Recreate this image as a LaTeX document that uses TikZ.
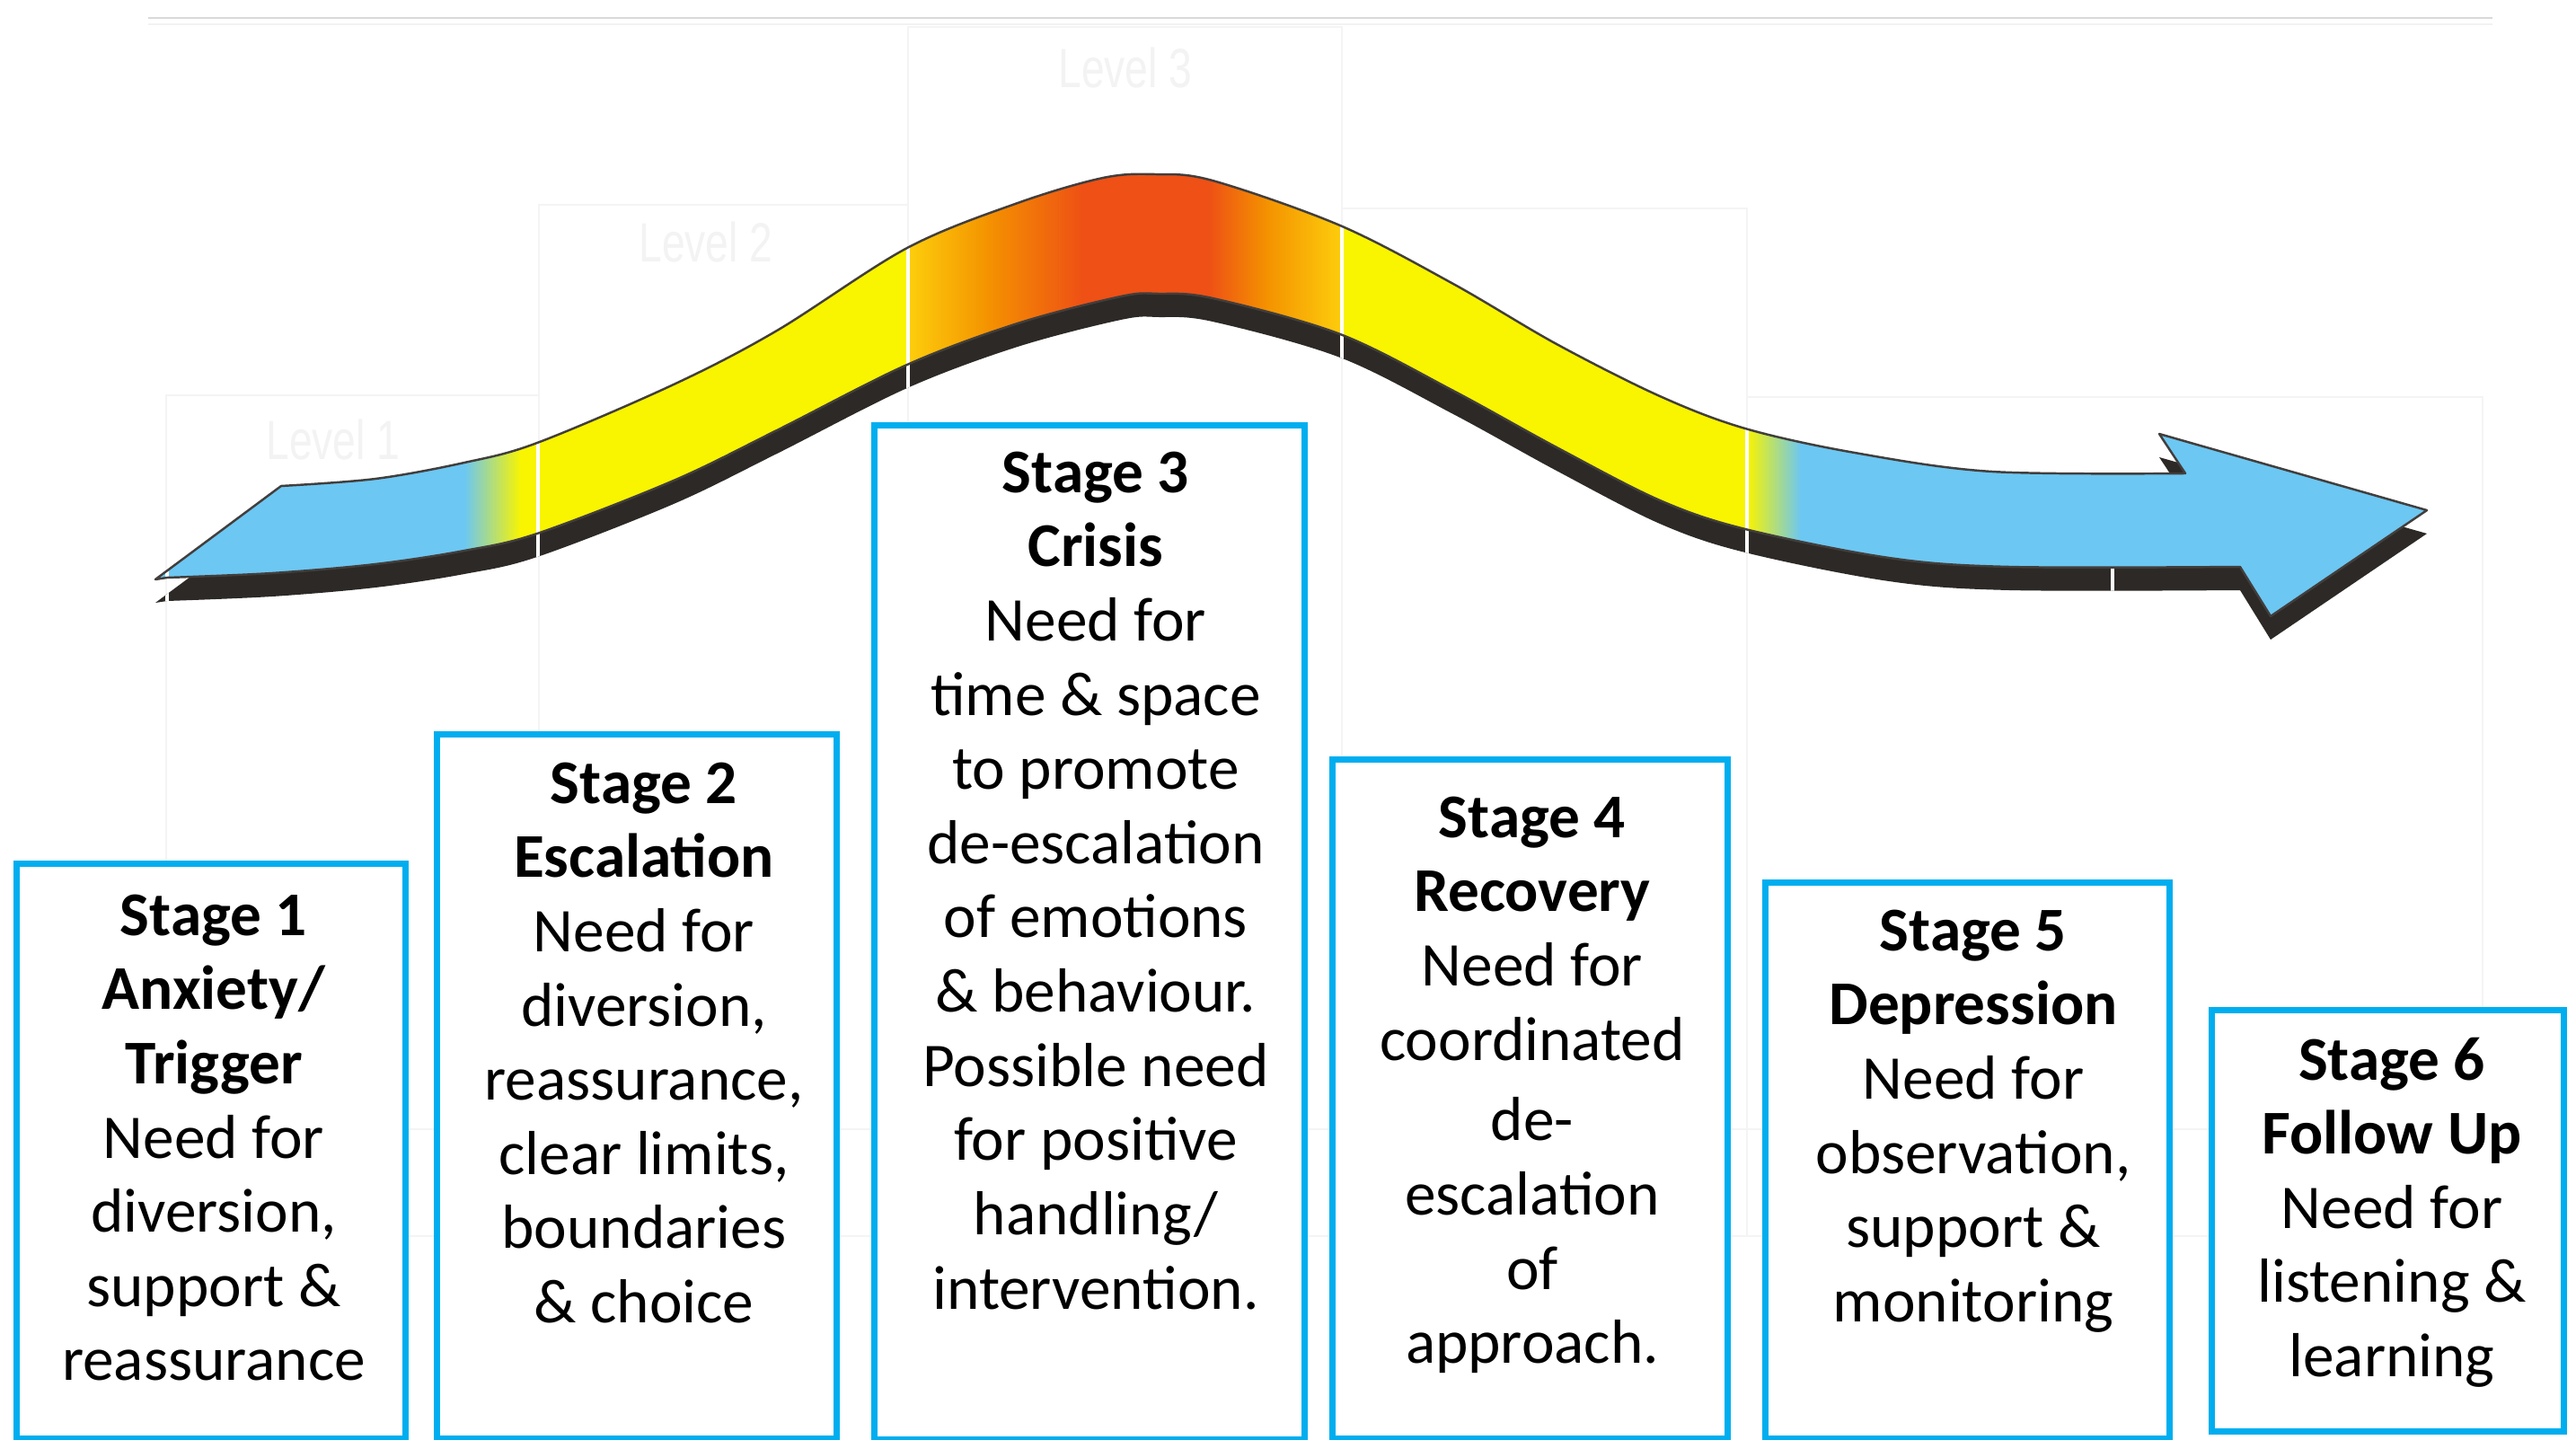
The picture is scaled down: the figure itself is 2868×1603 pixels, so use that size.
\documentclass[tikz,border=0pt]{standalone}
\usepackage{fontspec}
\setmainfont{Carlito}
\newfontfamily\levelfont{Liberation Sans}
\definecolor{bandblue}{RGB}{108,199,242}
\definecolor{bandyellow}{RGB}{249,244,0}
\definecolor{bandgold}{RGB}{253,206,12}
\definecolor{bandorange}{RGB}{244,146,0}
\definecolor{bandred}{RGB}{238,80,21}
\definecolor{shadowdark}{RGB}{45,41,38}
\definecolor{boxblue}{RGB}{0,174,239}
\definecolor{faintline}{RGB}{244,244,244}
\definecolor{leveltext}{RGB}{243,243,243}
\begin{document}
\begin{tikzpicture}[x=0.01cm,y=-0.01cm,
  stagebox/.style={draw=boxblue, line width=2pt, fill=white, inner sep=0pt, anchor=north west},
  stagetext/.style={anchor=north, inner sep=0pt, align=center, font=\fontsize{19.7}{23.5}\selectfont},
  levelbox/.style={draw=faintline, line width=0.8pt},
  levellabel/.style={inner sep=0pt, text=leveltext, font=\levelfont\fontsize{17.5}{20}\selectfont},
  bandgap/.style={draw=white, line width=1.4pt}]

\path[use as bounding box] (0,0) rectangle (2868,1603);
\clip (0,0) rectangle (2868,1603);
\fill[white] (0,0) rectangle (2868,1603);

% header rule
\draw[black!15, line width=0.8pt] (165,20) -- (2775,20);
\draw[black!5, line width=0.6pt] (165,27) -- (2775,27);

% background level columns
\draw[levelbox] (185,440) rectangle (600,1376);
\draw[levelbox] (600,228) rectangle (1011,1376);
\draw[levelbox] (1011,30) rectangle (1494,1376);
\draw[levelbox] (1494,232) rectangle (1945,1376);
\draw[levelbox] (1945,442) rectangle (2764,1376);
\draw[levelbox] (185,1257) -- (2764,1257);
\node[levellabel] (lev1) at (371,490) {\scalebox{0.75}[1]{Level 1}};
\node[levellabel] (lev2) at (786,270) {\scalebox{0.75}[1]{Level 2}};
\node[levellabel] (lev3) at (1253,76) {\scalebox{0.75}[1]{Level 3}};

% outline of the curved arrow
\def\arrowpath{(173,645) -- (313,541)
  -- plot[smooth, tension=0.55] coordinates {(313,541) (418,533) (517,515) (598,493)
     (750,428) (865,368) (1010,276) (1133,226) (1228,198) (1286,194) (1350,201)
     (1492,251) (1618,316) (1733,383) (1848,441) (1943,477) (2065,504) (2218,525) (2433,527)}
  -- (2404,483) -- (2702,568) -- (2528,686) -- (2494,631)
  -- plot[smooth, tension=0.55] coordinates {(2494,631) (2237,631) (2103,621) (1943,589)
     (1848,557) (1733,498) (1618,435) (1492,372) (1350,332) (1290,327) (1248,330)
     (1133,360) (1010,406) (865,479) (750,535) (598,594) (517,613) (418,628)
     (303,638) (186,643)}
  -- cycle}

% drop shadow
\begin{scope}[shift={(0,26)}]
  \fill[shadowdark] \arrowpath;
  \clip \arrowpath;
  \foreach \gx in {186,599,1011,1494,1945,2352}
    \draw[bandgap] (\gx,0) -- (\gx,900);
\end{scope}

% colour bands along the arrow
\begin{scope}
  \clip \arrowpath;
  \fill[bandblue] (150,0) rectangle (518,900);
  \shade[left color=bandblue, right color=bandyellow] (517,0) rectangle (580,900);
  \fill[bandyellow] (579,0) rectangle (1012,900);
  \shade[left color=bandgold, right color=bandorange] (1011,0) rectangle (1101,900);
  \shade[left color=bandorange, right color=bandred] (1100,0) rectangle (1206,900);
  \fill[bandred] (1205,0) rectangle (1346,900);
  \shade[left color=bandred, right color=bandorange] (1345,0) rectangle (1411,900);
  \shade[left color=bandorange, right color=bandgold] (1410,0) rectangle (1495,900);
  \fill[bandyellow] (1494,0) rectangle (1946,900);
  \shade[left color=bandyellow, right color=bandblue] (1945,0) rectangle (2005,900);
  \fill[bandblue] (2004,0) rectangle (2760,900);
  \foreach \gx in {186,599,1011,1494,1945}
    \draw[bandgap] (\gx,0) -- (\gx,900);
\end{scope}
\draw[shadowdark!90, line width=0.7pt, line join=round] \arrowpath;

% stage boxes
\node[stagebox, minimum width=4.33cm, minimum height=6.40cm] (b1) at (15,958) {};
\node[stagebox, minimum width=4.45cm, minimum height=7.84cm] (b2) at (483,814) {};
\node[stagebox, minimum width=4.79cm, minimum height=11.28cm] (b3) at (970,470) {};
\node[stagebox, minimum width=4.40cm, minimum height=7.56cm] (b4) at (1480,842) {};
\node[stagebox, minimum width=4.50cm, minimum height=6.19cm] (b5) at (1962,979) {};
\node[stagebox, minimum width=3.92cm, minimum height=4.69cm] (b6) at (2459,1121) {};

\node[stagetext] (t1) at (238,995) {\textbf{Stage 1}\\\textbf{Anxiety/}\\\textbf{Trigger}\\Need for\\diversion,\\support \&\\reassurance};
\node[stagetext] (t2) at (717,848) {\textbf{Stage 2}\\\textbf{Escalation}\\Need for\\diversion,\\reassurance,\\clear limits,\\boundaries\\\& choice};
\node[stagetext] (t3) at (1220,502) {\textbf{Stage 3}\\\textbf{Crisis}\\Need for\\time \& space\\to promote\\de-escalation\\of emotions\\\& behaviour.\\Possible need\\for positive\\handling/\\intervention.};
\node[stagetext] (t4) at (1706,886) {\textbf{Stage 4}\\\textbf{Recovery}\\Need for\\coordinated\\[2pt]de-\\escalation\\of\\approach.};
\node[stagetext] (t5) at (2197,1012) {\textbf{Stage 5}\\\textbf{Depression}\\Need for\\observation,\\support \&\\monitoring};
\node[stagetext] (t6) at (2663,1154) {\textbf{Stage 6}\\\textbf{Follow Up}\\Need for\\listening \&\\learning};
\end{tikzpicture}
\end{document}
